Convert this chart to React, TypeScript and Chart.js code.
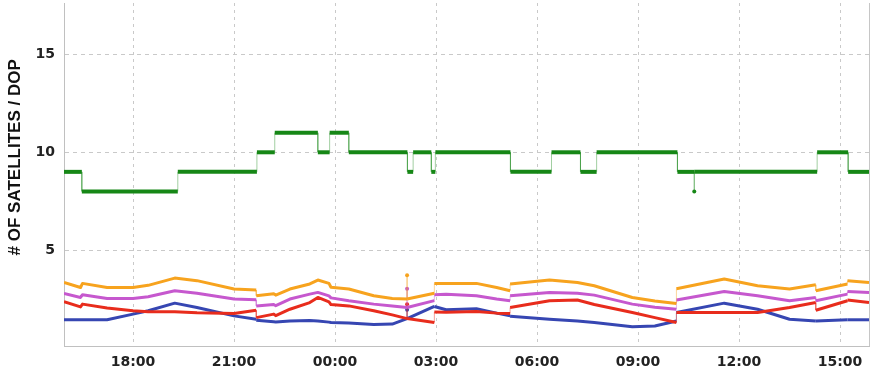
import React, { useEffect, useRef } from 'react';
import { Chart, registerables } from 'chart.js';

Chart.register(...registerables);

// Time axis: hours counted from midnight of the first day (24 = 00:00 next day)
const timeMin = 15.95;
const timeMax = 39.86;
const hourStep = 3;

// Satellite count: each step starts at satStart[i] with value satCount[i]
const satStart = [15.95, 16.48, 19.33, 21.68, 22.21, 23.49, 23.84, 24.41, 26.15, 26.32, 26.86, 26.98, 29.21, 30.43, 31.29, 31.77, 34.17, 34.67, 34.67, 38.32, 39.24];
const satCount = [9, 8, 9, 10, 11, 10, 11, 10, 9, 10, 9, 10, 9, 10, 9, 10, 9, 8, 9, 10, 9];

// DOP samples (a repeated time is an instantaneous jump)
const dopTimes = [15.95, 16.44, 16.5, 17.23, 18.0, 18.45, 19.24, 19.9, 21.0, 21.66, 21.66, 22.18, 22.24, 22.66, 23.25, 23.49, 23.82, 23.88, 24.41, 25.15, 25.7, 26.14, 26.14, 26.14, 26.95, 26.95, 27.3, 28.2, 28.8, 29.2, 29.2, 30.37, 31.2, 31.7, 32.83, 33.5, 34.14, 34.14, 35.56, 36.55, 37.5, 38.28, 38.28, 39.22, 39.22, 39.86];
const dopOrange = [3.35, 3.09, 3.3, 3.09, 3.09, 3.2, 3.57, 3.44, 3.01, 2.96, 2.67, 2.77, 2.7, 3.01, 3.27, 3.47, 3.3, 3.1, 3.01, 2.67, 2.53, 2.5, 3.72, 2.5, 2.8, 3.3, 3.3, 3.3, 3.09, 2.92, 3.27, 3.47, 3.35, 3.18, 2.58, 2.4, 2.27, 3.03, 3.52, 3.18, 3.01, 3.23, 2.92, 3.27, 3.44, 3.35];
const dopMagenta = [2.78, 2.58, 2.72, 2.53, 2.53, 2.62, 2.92, 2.8, 2.5, 2.46, 2.15, 2.22, 2.16, 2.5, 2.75, 2.84, 2.66, 2.56, 2.41, 2.24, 2.15, 2.07, 3.03, 2.07, 2.42, 2.72, 2.74, 2.67, 2.5, 2.41, 2.67, 2.84, 2.8, 2.7, 2.24, 2.08, 1.98, 2.45, 2.89, 2.67, 2.41, 2.58, 2.41, 2.75, 2.89, 2.84];
const dopRed = [2.37, 2.1, 2.24, 2.04, 1.9, 1.85, 1.85, 1.8, 1.76, 1.93, 1.55, 1.73, 1.65, 1.98, 2.32, 2.58, 2.36, 2.22, 2.15, 1.9, 1.69, 1.5, 2.24, 1.5, 1.3, 1.84, 1.82, 1.86, 1.78, 1.76, 2.07, 2.41, 2.45, 2.22, 1.81, 1.55, 1.3, 1.81, 1.81, 1.81, 2.07, 2.32, 1.93, 2.41, 2.45, 2.32];
const dopBlue = [1.44, 1.44, 1.44, 1.44, 1.73, 1.9, 2.29, 2.07, 1.64, 1.47, 1.42, 1.34, 1.33, 1.38, 1.4, 1.38, 1.32, 1.3, 1.27, 1.2, 1.22, 1.5, 1.95, 1.5, 2.12, 2.12, 1.95, 2.0, 1.78, 1.64, 1.62, 1.47, 1.38, 1.3, 1.08, 1.12, 1.38, 1.81, 2.29, 1.98, 1.47, 1.38, 1.38, 1.44, 1.44, 1.44];

const yMin = 0.1;
const yMax = 17.63;
const yStep = 5;
const yAxisTitle = '# OF SATELLITES / DOP';

// Styling
const green = 'rgb(22,135,22)';
const seriesStyles = [
  { values: dopOrange, color: 'rgb(247,163,30)', thin: 'rgba(247,163,30,0.45)' },
  { values: dopMagenta, color: 'rgb(198,88,206)', thin: 'rgba(198,88,206,0.45)' },
  { values: dopRed, color: 'rgb(232,44,28)', thin: 'rgba(232,44,28,0.45)' },
  { values: dopBlue, color: 'rgb(54,70,178)', thin: 'rgba(54,70,178,0.45)' },
];

type Pt = { x: number; y: number };

function satPoints(): Pt[] {
  const pts: Pt[] = [];
  for (let i = 0; i < satStart.length; i++) {
    const end = i + 1 < satStart.length ? satStart[i + 1] : timeMax;
    pts.push({ x: satStart[i], y: satCount[i] });
    pts.push({ x: end, y: satCount[i] });
  }
  return pts;
}

function dopPoints(values: number[]): Pt[] {
  return dopTimes.map((t, i) => ({ x: t, y: values[i] }));
}

// a vertical segment (two samples at the same time) is drawn as a thin connector
const isJump = (ctx: any) => ctx.p0.parsed.x === ctx.p1.parsed.x;

// a sample whose neighbours share its time is an isolated spike: show it as a dot
const isolatedRadius = (r: number) => (ctx: any) => {
  const d = ctx.dataset.data as Pt[];
  const i = ctx.dataIndex;
  if (i > 0 && i < d.length - 1 && d[i - 1].x === d[i].x && d[i + 1].x === d[i].x && d[i - 1].y !== d[i].y) return r;
  return 0;
};

const hhmm = (v: number) => `${String(((v % 24) + 24) % 24).padStart(2, '0')}:00`;

const framePlugin = {
  id: 'frameAndTitle',
  beforeDatasetsDraw(chart: any) {
    const { ctx, chartArea } = chart;
    ctx.save();
    ctx.strokeStyle = '#c6c6c6';
    ctx.lineWidth = 1;
    ctx.beginPath();
    ctx.moveTo(chartArea.right + 0.5, chartArea.top);
    ctx.lineTo(chartArea.right + 0.5, chartArea.bottom);
    ctx.stroke();
    ctx.restore();
  },
  afterDraw(chart: any) {
    const { ctx, chartArea } = chart;
    ctx.save();
    ctx.translate(15, chartArea.top + (chartArea.bottom - chartArea.top) * 0.45);
    ctx.rotate(-Math.PI / 2);
    ctx.font = 'bold 17px "Liberation Sans", Arial, sans-serif';
    ctx.fillStyle = '#111';
    ctx.textAlign = 'center';
    ctx.textBaseline = 'middle';
    ctx.fillText(yAxisTitle, 0, 0);
    ctx.restore();
  },
};

export default function App() {
  const canvasRef = useRef<HTMLCanvasElement | null>(null);

  useEffect(() => {
    if (!canvasRef.current) return;
    const tickFont = { family: '"DejaVu Sans", Verdana, sans-serif', size: 14, weight: 'bold' as const };

    const datasets: any[] = [
      {
        label: 'Satellites',
        data: satPoints(),
        borderColor: green,
        backgroundColor: green,
        borderWidth: 4,
        pointRadius: isolatedRadius(2),
        pointBorderWidth: 0,
        pointBackgroundColor: green,
        segment: {
          borderWidth: (c: any) => (isJump(c) ? 1 : undefined),
          borderColor: (c: any) => (isJump(c) ? 'rgba(22,135,22,0.4)' : undefined),
        },
      },
      ...seriesStyles.map((s) => ({
        data: dopPoints(s.values),
        borderColor: s.color,
        backgroundColor: s.color,
        borderWidth: 3,
        borderJoinStyle: 'round',
        pointRadius: isolatedRadius(2),
        pointBorderWidth: 0,
        pointBackgroundColor: s.color,
        segment: {
          borderWidth: (c: any) => (isJump(c) ? 1 : undefined),
          borderColor: (c: any) => (isJump(c) ? s.thin : undefined),
        },
      })),
    ];

    const chart = new Chart(canvasRef.current, {
      type: 'line',
      data: { datasets },
      options: {
        animation: false,
        responsive: false,
        events: [],
        layout: { padding: { left: 0, right: 5, top: 3, bottom: 0 } },
        plugins: { legend: { display: false }, tooltip: { enabled: false } },
        scales: {
          x: {
            type: 'linear',
            min: timeMin,
            max: timeMax,
            afterFit: (scale: any) => {
              scale.height = 31;
              scale.paddingLeft = 0;
              scale.paddingRight = 0;
            },
            ticks: {
              stepSize: hourStep,
              includeBounds: false,
              autoSkip: false,
              maxRotation: 0,
              padding: 8,
              color: '#222',
              font: tickFont,
              callback: (v: any) => hhmm(Number(v)),
            },
            grid: { color: '#c9c9c9', drawTicks: false },
            border: { display: true, color: '#c0c0c0', dash: [3, 4] },
          },
          y: {
            type: 'linear',
            min: yMin,
            max: yMax,
            afterFit: (scale: any) => {
              scale.width = 64;
              scale.paddingTop = 0;
              scale.paddingBottom = 0;
            },
            ticks: {
              stepSize: yStep,
              includeBounds: false,
              padding: 9,
              color: '#222',
              font: tickFont,
              callback: (v: any) => String(v),
            },
            grid: { drawTicks: false, color: '#c9c9c9' },
            border: { display: true, color: '#c0c0c0', dash: [4, 4] },
          },
        },
      },
      plugins: [framePlugin],
    });

    return () => chart.destroy();
  }, []);

  return (
    <div style={{ position: 'absolute', left: 0, top: 0, width: 874, height: 377, background: '#fff' }}>
      <canvas ref={canvasRef} width={874} height={377} />
    </div>
  );
}
